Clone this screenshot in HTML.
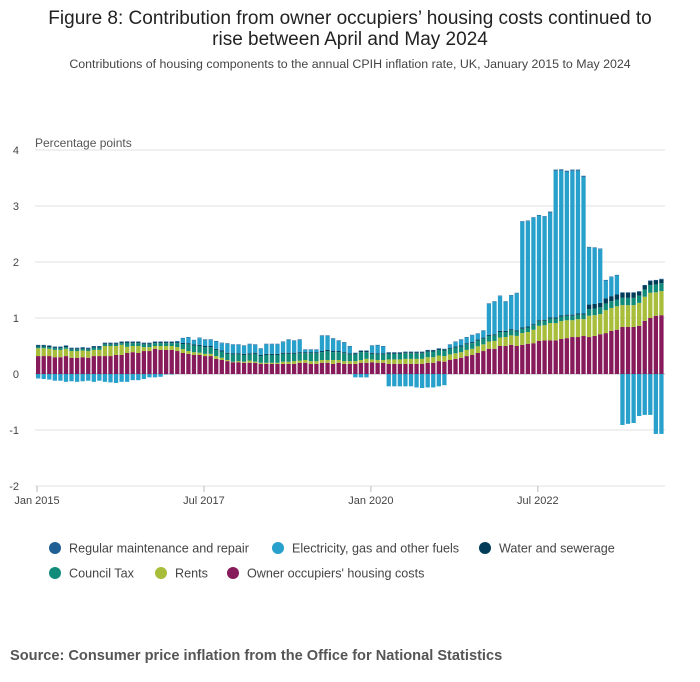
<!DOCTYPE html>
<html><head><meta charset="utf-8">
<style>
body{margin:0;background:#fff;font-family:"Liberation Sans",sans-serif;}
#wrap{position:relative;width:700px;height:682px;overflow:hidden;}
</style></head>
<body>
<div id="wrap">
<svg id="chart" width="700" height="682" xmlns="http://www.w3.org/2000/svg">
<text x="350" y="24" text-anchor="middle" font-size="19" fill="#222">Figure 8: Contribution from owner occupiers’ housing costs continued to</text>
<text x="350" y="45" text-anchor="middle" font-size="19" fill="#222">rise between April and May 2024</text>
<text x="350" y="68" text-anchor="middle" font-size="12.4" fill="#444">Contributions of housing components to the annual CPIH inflation rate, UK, January 2015 to May 2024</text>
<text x="35" y="147" font-size="12" fill="#555">Percentage points</text>
<g id="grid"></g>
<g id="bars"></g>
<g id="xaxis"></g>
<g id="legend"></g>
<text x="10" y="660" font-size="14.6" font-weight="bold" fill="#555">Source: Consumer price inflation from the Office for National Statistics</text>
</svg>
</div>
<script>
const yTicks = [-2,-1,0,1,2,3,4];
const xTickLabels = ["Jan 2015","Jul 2017","Jan 2020","Jul 2022"];
const xTickMonths = [0,30,60,90];
const seriesNames = ["Regular maintenance and repair","Electricity, gas and other fuels","Water and sewerage","Council Tax","Rents","Owner occupiers' housing costs"];
const ooh = [.32,.32,.32,.30,.30,.32,.29,.29,.30,.29,.32,.32,
.32,.32,.34,.34,.375,.39,.375,.41,.41,.45,.43,.43,
.43,.41,.375,.36,.34,.34,.32,.32,.27,.25,.23,.21,
.21,.20,.20,.20,.18,.18,.18,.18,.18,.18,.18,.20,
.20,.18,.18,.20,.20,.18,.20,.18,.18,.18,.20,.20,
.21,.20,.20,.18,.18,.18,.18,.18,.18,.18,.20,.20,
.23,.22,.25,.27,.29,.32,.34,.375,.41,.45,.45,.50,
.50,.52,.50,.52,.54,.55,.59,.60,.60,.60,.625,.64,
.66,.66,.68,.66,.68,.71,.73,.77,.79,.84,.84,.84,
.86,.95,1.0,1.04,1.05];
const rents = [.14,.14,.13,.13,.13,.13,.12,.12,.12,.12,.11,.11,
.18,.18,.16,.18,.11,.11,.125,.07,.07,.05,.07,.07,
.07,.07,.07,.05,.05,.04,.04,.04,.05,.04,.02,.01,
.02,.02,.04,.02,.02,.02,.02,.02,.04,.04,.05,.04,
.05,.05,.05,.05,.05,.07,.05,.05,.05,.05,.05,.07,
.05,.05,.05,.08,.08,.08,.09,.09,.09,.09,.10,.10,
.10,.10,.10,.10,.10,.11,.11,.12,.12,.13,.14,.15,
.16,.17,.18,.21,.21,.24,.27,.27,.31,.31,.32,.32,
.30,.32,.30,.38,.37,.36,.41,.41,.42,.39,.39,.39,
.41,.43,.45,.42,.43];
const councilTax = [.03,.03,.03,.03,.03,.03,.03,.03,.03,.03,.04,.04,
.03,.03,.03,.03,.07,.05,.05,.05,.05,.05,.05,.05,
.05,.07,.09,.12,.12,.12,.12,.12,.11,.11,.11,.13,
.12,.12,.11,.14,.12,.14,.14,.14,.14,.14,.13,.13,
.12,.14,.14,.14,.16,.14,.14,.14,.12,.12,.14,.12,
.10,.10,.10,.10,.10,.10,.10,.10,.10,.10,.10,.10,
.10,.10,.10,.10,.10,.10,.10,.10,.10,.10,.10,.10,
.09,.09,.08,.08,.08,.08,.08,.08,.08,.08,.08,.08,
.08,.08,.08,.12,.12,.12,.12,.12,.12,.13,.13,.13,
.13,.13,.14,.14,.14];
const water = [.02,.02,.02,.02,.02,.02,.02,.02,.02,.02,.02,.02,
.02,.02,.02,.02,.02,.02,.02,.02,.02,.02,.02,.02,
.02,.02,.02,.02,.02,.02,.02,.02,.02,.02,.02,.02,
.02,.02,.02,.02,.02,.02,.02,.02,.02,.02,.02,.02,
.02,.02,.02,.02,.02,.02,.02,.02,.02,.02,.02,.02,
.02,.02,.02,.02,.02,.02,.02,.02,.02,.02,.02,.02,
.02,.02,.02,.02,.02,.02,.02,.02,.02,.02,.02,.02,
.02,.02,.02,.02,.02,.02,.02,.02,.02,.02,.02,.02,
.02,.02,.02,.08,.08,.08,.09,.09,.09,.09,.09,.09,
.07,.07,.07,.07,.07];
const maintenance = [.01,.01,.01,.01,.01,.01,.01,.01,.01,.01,.01,.01,
.01,.01,.01,.01,.01,.01,.01,.01,.01,.01,.01,.01,
.01,.01,.01,.01,.01,.01,.01,.01,.01,.01,.01,.01,
.01,.01,.01,.01,.01,.01,.01,.01,.01,.01,.01,.01,
.01,.01,.01,.01,.01,.01,.01,.01,.01,.01,.01,.01,
.01,.01,.01,.01,.01,.01,.01,.01,.01,.01,.01,.01,
.01,.01,.01,.01,.01,.01,.01,.01,.01,.01,.01,.01,
.01,.01,.01,.01,.01,.01,.01,.01,.02,.02,.02,.02,
.02,.02,.02,.01,.01,.01,.01,.01,.01,.01,.01,.01,
.01,.01,.01,.01,.01];
const electricity = [-.08,-.09,-.10,-.12,-.12,-.14,-.13,-.14,-.13,-.12,-.14,-.12,
-.14,-.15,-.16,-.14,-.14,-.11,-.11,-.09,-.06,-.06,-.05,-.01,
-.01,.01,.08,.10,.07,.12,.11,.11,.13,.13,.16,.15,
.15,.14,.16,.14,.11,.17,.17,.17,.19,.23,.21,.22,
.04,.04,.04,.27,.25,.22,.18,.17,.12,-.06,-.06,-.06,
.12,.14,.12,-.22,-.22,-.22,-.22,-.22,-.24,-.25,-.24,-.24,
-.22,-.20,.05,.08,.10,.10,.12,.10,.12,.55,.58,.62,
.52,.60,.66,1.89,1.88,1.90,1.87,1.84,1.87,2.62,2.59,2.55,
2.57,2.55,2.44,1.02,1.00,.96,.32,.34,.34,-.91,-.89,-.875,
-.75,-.73,-.73,-1.07,-1.07];

const NS="http://www.w3.org/2000/svg";
const colors={maintenance:"#206095",electricity:"#27a0cc",water:"#003c57",councilTax:"#118c7b",rents:"#a8bd3a",ooh:"#871a5b"};
const legendColors=["#206095","#27a0cc","#003c57","#118c7b","#a8bd3a","#871a5b"];
const y0=374, pxPerUnit=56, x0=36, step=5.565, bw=4.3;
function yScale(v){return y0 - v*pxPerUnit;}
function xScale(i){return x0 + i*step;}
function mk(tag,attrs,parent){const e=document.createElementNS(NS,tag);for(const k in attrs)e.setAttribute(k,attrs[k]);parent.appendChild(e);return e;}

const grid=document.getElementById('grid');
yTicks.forEach(t=>{
  const l=mk('line',{x1:35,x2:665,y1:yScale(t),y2:yScale(t),stroke:t===0?"#bbb":"#e2e2e2","stroke-width":1},grid);
  
  
  const tx=mk('text',{x:19,y:yScale(t)+4,"text-anchor":"end","font-size":11,fill:"#444"},grid);
  tx.textContent=t;
  
  
});

const bars=document.getElementById('bars');
const order=[["ooh",ooh],["rents",rents],["councilTax",councilTax],["water",water],["electricity",electricity],["maintenance",maintenance]];
for(let i=0;i<ooh.length;i++){
  let pos=0,neg=0;
  order.forEach(([name,arr])=>{
    const v=arr[i]; if(!v) return;
    let top,bot;
    if(v>=0){bot=pos;top=pos+v;pos=top;}else{top=neg;bot=neg+v;neg=bot;}
    const r=mk('rect',{x:xScale(i),y:yScale(top),width:bw,height:Math.max(0.3,(top-bot)*pxPerUnit),fill:colors[name]},bars);
    
    
  });
}

const xaxis=document.getElementById('xaxis');
xTickMonths.forEach((m,k)=>{
  const x=xScale(m)+1;
  const l=mk('line',{x1:x,x2:x,y1:486,y2:492,stroke:"#bbb"},xaxis);
  
  
  const t=mk('text',{x:x,y:504,"text-anchor":"middle","font-size":11,fill:"#444"},xaxis);
  t.textContent=xTickLabels[k];
  
  
});

const legend=document.getElementById('legend');
const legPos=[[55,549],[278,549],[485,549],[55,574],[161,574],[233,574]];
seriesNames.forEach((n,k)=>{
  const c=mk('circle',{cx:legPos[k][0],cy:legPos[k][1]-1,r:6,fill:legendColors[k]},legend);
  
  
  const t=mk('text',{x:legPos[k][0]+14,y:legPos[k][1]+3.5,"font-size":12.6,fill:"#444"},legend);
  t.textContent=n;
  
  
});
</script>
</body></html>
